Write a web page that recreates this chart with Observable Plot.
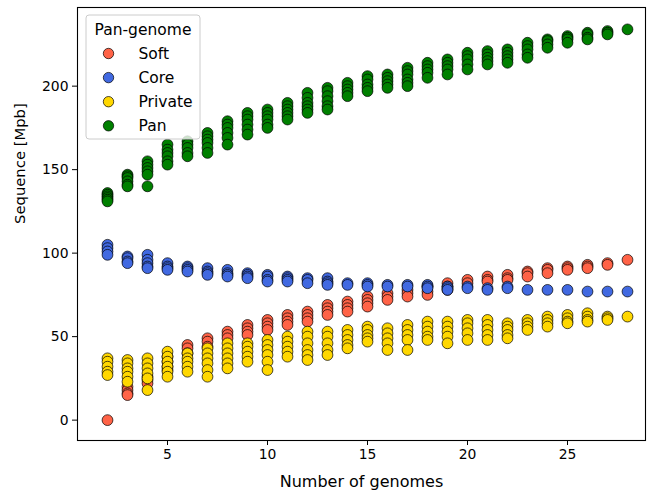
<!DOCTYPE html>
<html>
<head>
<meta charset="utf-8">
<script src="https://cdn.jsdelivr.net/npm/d3@7"></script>
<script src="https://cdn.jsdelivr.net/npm/@observablehq/plot@0.6"></script>
<style>
  html, body { margin: 0; padding: 0; background: #fff; }
  #chart { width: 647px; height: 493px; }
</style>
</head>
<body>
<div id="chart"></div>
<script>
// Number of genomes sampled (x) and the sequence size in Mpb of each
// subsample for every pan-genome component.
const genomes = [2, 3, 4, 5, 6, 7, 8, 9, 10, 11, 12, 13, 14, 15, 16, 17, 18, 19, 20, 21, 22, 23, 24, 25, 26, 27, 28];

const soft = [
  [0], [20, 18, 16, 15], [26, 24, 22], [38, 35, 32, 30], [45, 43, 40], [49, 47, 44],
  [53, 51, 49], [57, 55, 53, 51], [60, 58, 56, 54], [63, 61, 59, 57], [65, 63, 61, 59],
  [69, 67, 65, 63], [71, 69, 67, 65], [74, 72, 70, 68], [76, 74, 72], [78, 76, 74],
  [80, 77, 75], [82, 80, 78], [84, 82], [86, 84, 83], [87, 85, 84], [89, 88, 86],
  [91, 90, 88], [92, 91, 90], [93, 92, 91], [94, 93], [96]
];

const core = [
  [105, 103, 101, 99], [98, 97, 95, 94], [99, 96, 94, 92, 91], [94, 92, 91, 90],
  [92, 91, 90, 89], [91, 89, 88, 87], [90, 88, 87, 86], [88, 87, 86, 85], [87, 86, 84, 83],
  [86, 85, 84, 83], [85, 84, 82], [85, 83, 82, 81], [82, 81], [82, 81, 80], [81, 80],
  [81, 80], [81, 80, 79], [80, 79, 78], [80, 79], [79, 78], [80, 79], [78], [78], [78],
  [77], [77], [77]
];

const privateSeq = [
  [37, 35, 32, 29, 27], [36, 34, 31, 29, 26, 23], [37, 34, 31, 28, 25, 18],
  [41, 38, 35, 32, 29, 26], [40, 37, 35, 32, 29], [43, 40, 37, 34, 30, 26],
  [46, 43, 40, 37, 34, 31], [46, 44, 41, 38, 35], [48, 45, 42, 39, 35, 30],
  [50, 47, 44, 41, 38], [53, 50, 46, 42, 39, 36], [53, 50, 46, 42, 39],
  [54, 51, 48, 45, 43], [56, 54, 51, 49, 47], [55, 52, 49, 46, 42], [57, 54, 51, 48, 42],
  [59, 56, 53, 50, 48], [59, 56, 53, 50, 46], [60, 58, 55, 52, 48], [60, 57, 54, 51, 48],
  [58, 56, 54, 51, 49], [60, 58, 56, 54], [62, 60, 58, 56], [63, 61, 59, 58],
  [64, 62, 60, 59], [62, 61, 60], [62]
];

const pan = [
  [136, 135, 134, 133, 132, 131], [147, 146, 145, 143, 141, 140], [155, 153, 151, 149, 147, 140],
  [165, 162, 160, 158, 155, 153], [167, 165, 163, 160, 158], [172, 170, 168, 166, 163, 160],
  [179, 177, 175, 172, 169, 165], [184, 182, 180, 177, 174, 171], [186, 184, 182, 180, 177, 175],
  [190, 188, 186, 184, 182, 180], [196, 193, 190, 188, 186, 184], [199, 197, 194, 191, 188, 186],
  [202, 200, 198, 196, 194], [206, 204, 201, 199, 197], [207, 205, 203, 201, 199],
  [211, 209, 207, 204, 202, 200], [214, 212, 210, 208, 205], [216, 214, 212, 210, 207],
  [220, 218, 216, 213, 210], [221, 219, 217, 215, 213], [222, 220, 218, 216, 214],
  [226, 224, 222, 219, 217], [228, 227, 225, 223], [230, 229, 228, 226], [232, 231, 229, 228],
  [233, 232, 231], [234]
];

const seriesNames = ["Soft", "Core", "Private", "Pan"];
const seriesColors = ["#ff6347", "#4169e1", "#ffd700", "#008000"];
const xTicks = [5, 10, 15, 20, 25];
const yTicks = [0, 50, 100, 150, 200];
const xLabel = "Number of genomes";
const yLabel = "Sequence [Mpb]";
const legendTitle = "Pan-genome";

// Flatten into one table; series order sets the drawing order (Pan on top).
const rows = [];
[soft, core, privateSeq, pan].forEach((values, s) => {
  values.forEach((group, i) => {
    group.forEach((v) => rows.push({ genomes: genomes[i], size: v, series: seriesNames[s] }));
  });
});

const font = "'DejaVu Sans', sans-serif";

const plot = Plot.plot({
  width: 647,
  height: 493,
  marginLeft: 77,
  marginRight: 2,
  marginTop: 7,
  marginBottom: 53,
  style: { fontFamily: font, fontSize: "13.9px", color: "black", background: "white" },
  x: { domain: [0.5, 28.9] },
  y: { domain: [-12.2, 247.1] },
  color: { domain: seriesNames, range: seriesColors },
  marks: [
    Plot.dot(rows, {
      x: "genomes",
      y: "size",
      fill: "series",
      r: 5.4,
      stroke: "black",
      strokeWidth: 0.7
    }),
    Plot.frame({ stroke: "black", strokeWidth: 1.1 }),
    Plot.axisX({
      ticks: xTicks,
      tickSize: 5,
      tickPadding: 4,
      tickFormat: (d) => `${d}`,
      label: null
    }),
    Plot.axisY({
      ticks: yTicks,
      tickSize: 5,
      tickPadding: 4,
      tickFormat: (d) => `${d}`,
      label: null
    }),
    // Axis titles
    Plot.text([xLabel], {
      frameAnchor: "bottom",
      dy: 46,
      fontSize: 16,
      lineAnchor: "bottom",
      fill: "black"
    }),
    Plot.text([yLabel], {
      frameAnchor: "left",
      dx: -57,
      rotate: -90,
      fontSize: 14.8,
      lineAnchor: "middle",
      fill: "black"
    })
  ]
});

document.getElementById("chart").appendChild(plot);

// Legend box in the upper-left corner of the axes.
const svg = d3.select(plot);
const lg = svg.append("g")
  .attr("font-family", font)
  .attr("font-size", "15.5px")
  .attr("text-anchor", "start");
lg.append("rect")
  .attr("x", 86).attr("y", 15).attr("width", 114).attr("height", 124)
  .attr("rx", 3).attr("ry", 3)
  .attr("fill", "white").attr("fill-opacity", 0.8)
  .attr("stroke", "#cccccc").attr("stroke-width", 1);
lg.append("text")
  .attr("x", 143).attr("y", 34.5)
  .attr("text-anchor", "middle")
  .attr("fill", "black")
  .text(legendTitle);
seriesNames.forEach((name, i) => {
  const cy = 53.5 + i * 24.1;
  lg.append("circle")
    .attr("cx", 108.5).attr("cy", cy).attr("r", 5.2)
    .attr("fill", seriesColors[i]).attr("stroke", "black").attr("stroke-width", 0.7);
  lg.append("text")
    .attr("x", 138.5).attr("y", cy + 5.5)
    .attr("text-anchor", "start")
    .attr("fill", "black")
    .text(name);
});
</script>
</body>
</html>
